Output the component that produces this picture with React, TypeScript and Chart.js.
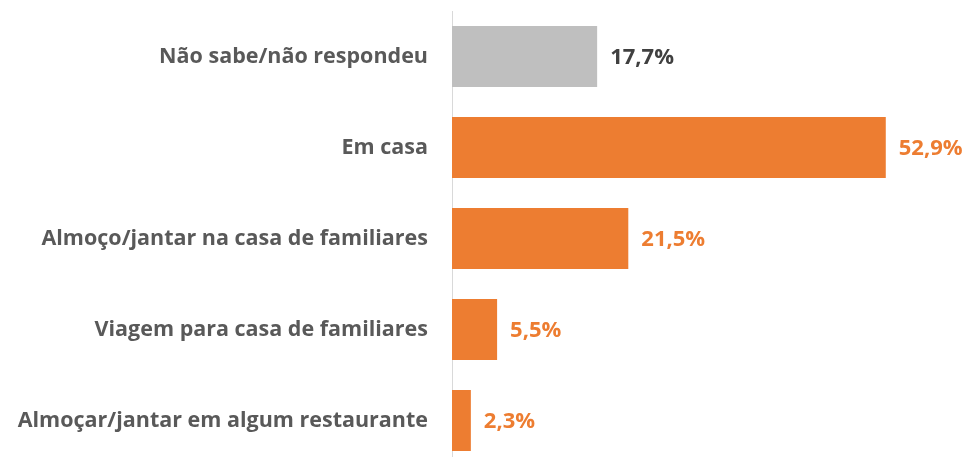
import React, { useEffect, useRef } from "react";
import { Chart, registerables } from "chart.js";

Chart.register(...registerables);

const categories = [
  "Não sabe/não respondeu",
  "Em casa",
  "Almoço/jantar na casa de familiares",
  "Viagem para casa de familiares",
  "Almoçar/jantar em algum restaurante",
];
const values = [17.7, 52.9, 21.5, 5.5, 2.3];
const valueLabels = ["17,7%", "52,9%", "21,5%", "5,5%", "2,3%"];
const barColors = ["#BFBFBF", "#ED7D31", "#ED7D31", "#ED7D31", "#ED7D31"];
const valueLabelColors = ["#404040", "#ED7D31", "#ED7D31", "#ED7D31", "#ED7D31"];

const FONT_FAMILY = "'Open Sans', sans-serif";
const LABEL_FONT_SIZE = 21.5;
const VALUE_FONT_SIZE = 22;

const valueLabelPlugin = {
  id: "valueLabels",
  afterDatasetsDraw(chart: any) {
    const ctx = chart.ctx;
    const meta = chart.getDatasetMeta(0);
    ctx.save();
    ctx.font = `bold ${VALUE_FONT_SIZE}px ${FONT_FAMILY}`;
    ctx.textAlign = "left";
    ctx.textBaseline = "middle";
    meta.data.forEach((bar: any, i: number) => {
      ctx.fillStyle = valueLabelColors[i];
      ctx.fillText(valueLabels[i], bar.x + 13, bar.y + 1);
    });
    ctx.restore();
  },
};

export default function App() {
  const ref = useRef<HTMLCanvasElement | null>(null);
  useEffect(() => {
    document.body.style.margin = "0";
    const chart = new Chart(ref.current!, {
      type: "bar",
      data: {
        labels: categories,
        datasets: [
          {
            data: values,
            backgroundColor: barColors,
            borderWidth: 0,
            barPercentage: 0.67,
            categoryPercentage: 1,
          },
        ],
      },
      options: {
        indexAxis: "y",
        animation: false,
        responsive: true,
        maintainAspectRatio: false,
        layout: { padding: { top: 11, right: 24, bottom: 0, left: 0 } },
        plugins: { legend: { display: false }, tooltip: { enabled: false } },
        scales: {
          x: {
            min: 0,
            max: 60,
            display: false,
            grid: { display: false },
          },
          y: {
            afterFit(scale: any) {
              scale.width = 452;
              scale.paddingTop = 0;
              scale.paddingBottom = 0;
            },
            grid: { display: false, drawTicks: false },
            border: { display: true, color: "#D9D9D9", width: 1 },
            ticks: {
              padding: 24,
              color: "#595959",
              font: { family: FONT_FAMILY, size: LABEL_FONT_SIZE, weight: "bold" },
            },
          },
        },
      },
      plugins: [valueLabelPlugin],
    });
    return () => chart.destroy();
  }, []);
  return (
    <div style={{ width: 968, height: 457, overflow: "hidden", background: "#fff" }}>
      <div style={{ width: 968, height: 466, position: "relative" }}>
        <canvas ref={ref} />
      </div>
    </div>
  );
}
